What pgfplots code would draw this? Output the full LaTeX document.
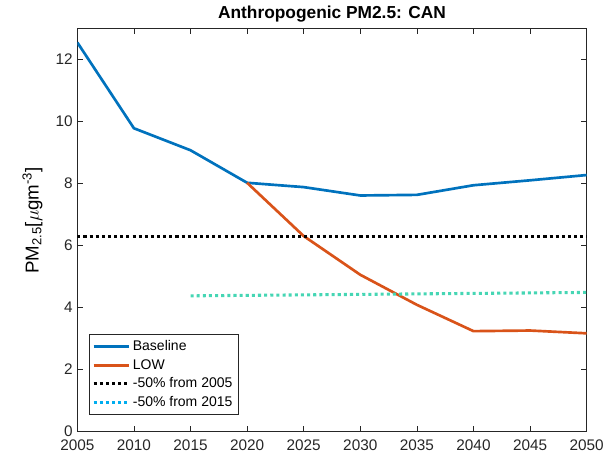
\documentclass[border=0pt]{standalone}
\usepackage{pgfplots}
\pgfplotsset{compat=1.18}
\usepackage{fontspec}
\setmainfont{Liberation Sans}
\definecolor{mblue}{rgb}{0,0.447,0.741}
\definecolor{morange}{rgb}{0.85,0.325,0.098}
\definecolor{turq}{RGB}{70,214,180}
\definecolor{axgray}{rgb}{0.15,0.15,0.15}
\begin{document}
\begin{tikzpicture}
\begin{axis}[
  scale only axis,
  width=382pt, height=302pt,
  xmin=2005, xmax=2050, ymin=0, ymax=13,
  xtick={2005,2010,...,2050},
  ytick={0,2,...,12},
  xticklabel style={/pgf/number format/1000 sep={}, yshift=-3pt},
  /pgf/number format/assume math mode=true,
  tick align=inside,
  tick pos=both,
  major tick length=4pt,
  axis line style={axgray, line width=0.5pt},
  every tick/.style={axgray, line width=0.5pt},
  tick label style={font=\fontsize{11.5}{13}\selectfont, text=axgray},
  title={\textbf{Anthropogenic PM2.5: CAN}},
  title style={font=\fontsize{13}{15}\selectfont, yshift=-5pt},
  ylabel={PM\textsubscript{2.5}[$\mu$gm\textsuperscript{-3}]},
  ylabel style={font=\fontsize{14}{16}\selectfont, yshift=3pt, xshift=7pt},
  legend style={at={(rel axis cs:0.022,0.04)}, anchor=south west,
    font=\fontsize{10.5}{12.5}\selectfont, draw=axgray, line width=0.5pt,
    row sep=1pt, inner sep=2.5pt},
  legend cell align=left,
  legend image code/.code={\draw[#1] (0cm,0cm) -- (0.92cm,0cm);},
]
\addplot[mblue, line width=2pt] coordinates {
(2005,12.55) (2010,9.78) (2015,9.07) (2020,8.02) (2025,7.88) (2030,7.61) (2035,7.63) (2040,7.94) (2045,8.10) (2050,8.27)};
\addlegendentry{Baseline}
\addplot[morange, line width=2pt] coordinates {
(2020,8.02) (2025,6.30) (2030,5.05) (2035,4.08) (2040,3.23) (2045,3.25) (2050,3.16)};
\addlegendentry{LOW}
\addplot[black, line width=2.3pt, dash pattern=on 2.3pt off 2.3pt] coordinates {
(2005,6.28) (2050,6.28)};
\addlegendentry{-50\% from 2005}
\addplot[turq, line width=2.3pt, dash pattern=on 2.3pt off 2.3pt, forget plot] coordinates {
(2015,4.37) (2050,4.48)};
\addlegendimage{cyan, line width=2.3pt, dash pattern=on 2.3pt off 2.3pt}
\addlegendentry{-50\% from 2015}
\end{axis}
\pgfresetboundingbox
\path (current axis.south west) ++(-58pt,-21pt) coordinate (bl);
\path (current axis.north east) ++(13pt,21.4pt) coordinate (tr);
\path[use as bounding box] (bl) rectangle (tr);
\end{tikzpicture}
\end{document}
